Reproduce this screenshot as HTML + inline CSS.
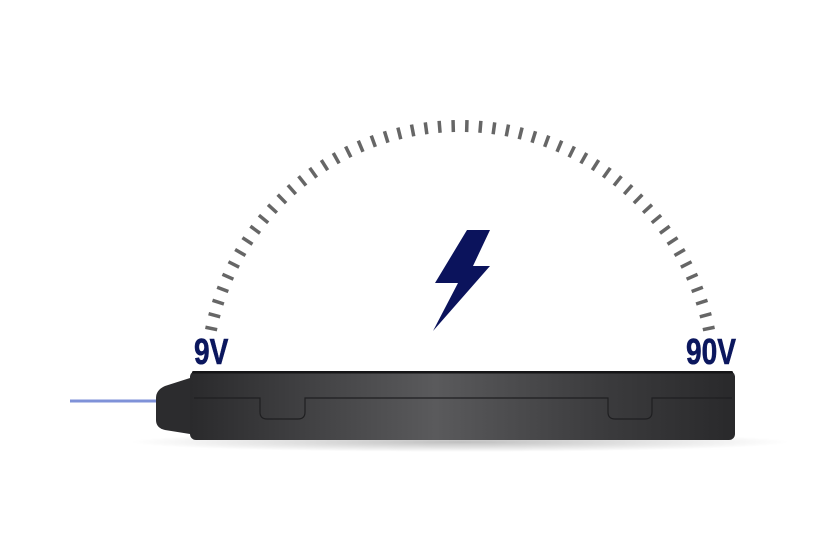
<!DOCTYPE html>
<html><head><meta charset="utf-8"><style>
html,body{margin:0;padding:0;background:#fff;width:840px;height:560px;overflow:hidden}
.lbl{position:absolute;font-family:"Liberation Sans Narrow","Liberation Sans",sans-serif;font-weight:bold;color:#0b175e;font-size:36px;line-height:1;transform:scaleX(0.78);transform-origin:left top;-webkit-text-stroke:0.6px #0b175e}
</style></head><body>
<svg width="840" height="560" style="position:absolute;left:0;top:0">
<defs>
<linearGradient id="bx" x1="0" x2="1" y1="0" y2="0">
<stop offset="0" stop-color="#2a2a2c"/><stop offset="0.45" stop-color="#5a5a5c"/><stop offset="0.75" stop-color="#3c3c3e"/><stop offset="1" stop-color="#29292b"/>
</linearGradient>
<radialGradient id="sh" cx="0.5" cy="0.5" r="0.5"><stop offset="0" stop-color="#000" stop-opacity="0.25"/><stop offset="1" stop-color="#000" stop-opacity="0"/></radialGradient>
</defs>
<g id="ticks" stroke="#666" stroke-width="3.5"></g>
<path d="M467,230 L490,230 L473,266 L490,266 L433,331 L458,283 L435,283 Z" fill="#0b135c"/>
<ellipse cx="460" cy="442" rx="330" ry="10" fill="url(#sh)"/>
<line x1="70" y1="401" x2="160" y2="401" stroke="#7f92d8" stroke-width="3"/>
<path d="M190,378 L165,386 Q156,390 156,398 L156,420 Q156,428 165,430 L190,434 Z" fill="#2c2c2e"/>
<rect x="190" y="371" width="545" height="69" rx="6" fill="url(#bx)"/>
<rect x="192" y="371" width="541" height="2.5" rx="1.5" fill="#151517"/>
<path d="M194,398 L260,398 L260,412 Q260,419 267,419 L298,419 Q305,419 305,412 L305,398 L608,398 L608,412 Q608,419 615,419 L645,419 Q652,419 652,412 L652,398 L732,398" fill="none" stroke="#1f1f21" stroke-width="1.2"/>
</svg>
<div class="lbl" style="left:194px;top:334px">9V</div>
<div class="lbl" style="left:686px;top:334px">90V</div>
<script>
var g=document.getElementById('ticks'),cx=460,cy=380,r1=248,r2=260,a0=11.7,a1=168.3,n=52,s='';
for(var i=0;i<n;i++){var a=(a0+(a1-a0)*i/(n-1))*Math.PI/180,c=Math.cos(a),d=Math.sin(a);
s+='<line x1="'+(cx+r1*c)+'" y1="'+(cy-r1*d)+'" x2="'+(cx+r2*c)+'" y2="'+(cy-r2*d)+'"/>';}
g.innerHTML=s;
</script>
</body></html>
